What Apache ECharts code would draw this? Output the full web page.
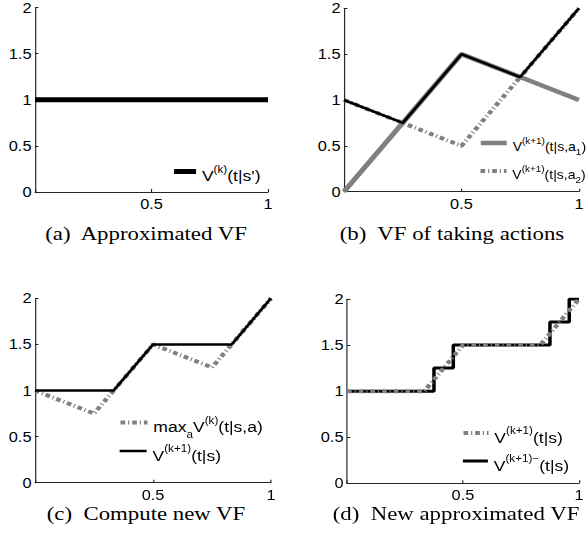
<!DOCTYPE html>
<html><head><meta charset="utf-8">
<script src="https://cdn.jsdelivr.net/npm/echarts@6/dist/echarts.min.js"></script>
<style>
html,body{margin:0;padding:0;background:#fff;overflow:hidden;}
#wrap{width:587px;height:546px;overflow:hidden;position:relative;}
#c{height:546px;transform-origin:0 0;position:absolute;left:0;top:0;}
</style></head><body>
<div id="wrap"><div id="c"></div></div>
<script>
// ---- data ----
const tFlat = [0, 1];
const vFlat = [1, 1];                       // (a) V^(k)(t|s')
const tKnots = [0, 0.25, 0.5, 0.75, 1];
const vA1 = [0, 0.75, 1.5, 1.25, 1];        // (b) action a1
const vA2 = [1, 0.75, 0.5, 1.25, 2];        // (b) action a2
const vMaxA = [1, 0.75, 1.5, 1.25, 2];      // max over actions
const tNew = [0, 1/3, 0.5, 5/6, 1];
const vNew = [1, 1, 1.5, 1.5, 2];           // V^(k+1)(t|s)
const tStep = [0, 0.375, 0.4583, 0.875, 0.9583, 1];
const vStep = [1, 1.25, 1.5, 1.75, 2, 2];   // V^(k+1)-(t|s)
const xTicks = [0, 0.5, 1];
const yTicks = [0, 0.5, 1, 1.5, 2];
const captions = ['(a)\u00a0 Approximated VF', '(b)\u00a0 VF of taking actions', '(c)\u00a0 Compute new VF', '(d)\u00a0 New approximated VF'];
const legendLabels = {
  aV: '{v|V}{sup|(k)}{v|(t|s\')}',
  bA1: '{v|V}{sup|(k+1)}{v|(t|s,a}{sub|1}{v|)}',
  bA2: '{v|V}{sup|(k+1)}{v|(t|s,a}{sub|2}{v|)}',
  cMax: '{v|max}{sub|a}{v|V}{sup|(k)}{v|(t|s,a)}',
  cNew: '{v|V}{sup|(k+1)}{v|(t|s)}',
  dNew: '{v|V}{sup|(k+1)}{v|(t|s)}',
  dStep: '{v|V}{sup|(k+1)\u2212}{v|(t|s)}'
};

// ---- layout (reference pixels; x is divided by the horizontal stretch S) ----
const S = 1.17;
const W = 587 / S, H = 546;
const el = document.getElementById('c');
el.style.width = W + 'px';
el.style.transform = 'scaleX(' + S + ')';

const grids = [
  {l: 35, t: 7.5, w: 233, h: 184.5},
  {l: 344, t: 8.3, w: 236, h: 183.4},
  {l: 35, t: 298.3, w: 236, h: 184.4},
  {l: 347, t: 299, w: 236.3, h: 184.3}
];
const AX = '#262626';
const GRAY = '#808080';
const pair = (xs, ys) => xs.map((x, i) => [x, ys[i]]);
const DASHDOT = [4, 2.5, 1, 2.5];

function richFor(main, small) {
  return {
    v: {fontSize: main, lineHeight: main, padding: [4, 0, 0, 0], verticalAlign: 'top', fontFamily: 'Liberation Sans', color: '#000'},
    sup: {fontSize: small, lineHeight: small, padding: [0, 0, 0, 0], verticalAlign: 'top', fontFamily: 'Liberation Sans', color: '#000'},
    sub: {fontSize: small, lineHeight: small, padding: [main - 1, 0, 0, 0], verticalAlign: 'top', fontFamily: 'Liberation Sans', color: '#000'}
  };
}
function legendAt(name, textLeft, iconCY, iw, main, small, boxH) {
  return {
    data: [name], orient: 'horizontal', padding: 0, itemGap: 0,
    left: textLeft / S - 5 - iw / S, top: iconCY - boxH / 2,
    itemWidth: iw / S, itemHeight: 10, selectedMode: false,
    formatter: n => legendLabels[n],
    itemStyle: {opacity: 0},
    lineStyle: {width: 'inherit', type: 'inherit', color: 'inherit'},
    textStyle: {rich: richFor(main, small)}
  };
}

const option = {
  animation: false,
  backgroundColor: '#fff',
  grid: grids.map(g => ({left: g.l / S, top: g.t, width: g.w / S, height: g.h, containLabel: false})),
  xAxis: grids.map((g, i) => ({
    type: 'value', gridIndex: i, min: xTicks[0], max: xTicks[xTicks.length - 1], interval: xTicks[1] - xTicks[0],
    axisLine: {show: true, lineStyle: {color: AX, width: 1}},
    axisTick: {show: true, inside: true, length: 3, lineStyle: {color: AX}},
    axisLabel: {margin: 5, fontFamily: 'Liberation Sans', fontSize: 14, color: '#000',
      formatter: v => (v === 0 ? '' : String(v))},
    splitLine: {show: false}
  })),
  yAxis: grids.map((g, i) => ({
    type: 'value', gridIndex: i, min: yTicks[0], max: yTicks[yTicks.length - 1], interval: yTicks[1] - yTicks[0],
    axisLine: {show: true, lineStyle: {color: AX, width: 1}},
    axisTick: {show: true, inside: true, length: 3, lineStyle: {color: AX}},
    axisLabel: {margin: 3, fontFamily: 'Liberation Sans', fontSize: 14, color: '#000'},
    splitLine: {show: false}
  })),
  legend: [
    legendAt('aV', 199, 173.5, 22, 15, 10, 19),
    legendAt('bA1', 510, 145, 26, 12, 8.5, 16),
    legendAt('bA2', 510, 173, 26, 12, 8.5, 16),
    legendAt('cMax', 151, 427, 27, 15, 10, 24),
    legendAt('cNew', 151, 453, 27, 15, 10, 19),
    legendAt('dNew', 492, 435, 25, 15, 10, 19),
    legendAt('dStep', 492, 463, 25, 15, 10, 19)
  ],
  series: [
    {name: 'aV', type: 'line', xAxisIndex: 0, yAxisIndex: 0, data: pair(tFlat, vFlat), symbol: 'none',
      lineStyle: {color: '#000', width: 5}, itemStyle: {color: '#000'}},
    {name: 'bA1', type: 'line', xAxisIndex: 1, yAxisIndex: 1, data: pair(tKnots, vA1), symbol: 'none',
      lineStyle: {color: GRAY, width: 4.5}, itemStyle: {color: GRAY}},
    {name: 'bA2', type: 'line', xAxisIndex: 1, yAxisIndex: 1, data: pair(tKnots, vA2), symbol: 'none',
      lineStyle: {color: GRAY, width: 4, type: DASHDOT}, itemStyle: {color: GRAY}},
    {name: 'bMax', type: 'line', xAxisIndex: 1, yAxisIndex: 1, data: pair(tKnots, vMaxA), symbol: 'none',
      lineStyle: {color: '#000', width: 2.5}, itemStyle: {color: '#000'}},
    {name: 'cMax', type: 'line', xAxisIndex: 2, yAxisIndex: 2, data: pair(tKnots, vMaxA), symbol: 'none',
      lineStyle: {color: GRAY, width: 4, type: DASHDOT}, itemStyle: {color: GRAY}},
    {name: 'cNew', type: 'line', xAxisIndex: 2, yAxisIndex: 2, data: pair(tNew, vNew), symbol: 'none',
      lineStyle: {color: '#000', width: 2.5}, itemStyle: {color: '#000'}},
    {name: 'dStep', type: 'line', xAxisIndex: 3, yAxisIndex: 3, data: pair(tStep, vStep), symbol: 'none', step: 'end',
      lineStyle: {color: '#000', width: 3}, itemStyle: {color: '#000'}},
    {name: 'dNew', type: 'line', xAxisIndex: 3, yAxisIndex: 3, data: pair(tNew, vNew), symbol: 'none',
      lineStyle: {color: GRAY, width: 4, type: DASHDOT}, itemStyle: {color: GRAY}}
  ],
  graphic: captions.map((txt, i) => ({
    type: 'text',
    x: [146, 452, 146, 456][i] / S,
    y: [234, 234, 514, 514][i],
    style: {text: txt, fontFamily: 'Liberation Serif', fontSize: 19.5, fill: '#000',
      align: 'center', verticalAlign: 'middle', textAlign: 'center', textVerticalAlign: 'middle'}
  }))
};

const chart = echarts.init(el, null, {renderer: 'svg', width: W, height: H});
chart.setOption(option);
</script>
</body></html>
